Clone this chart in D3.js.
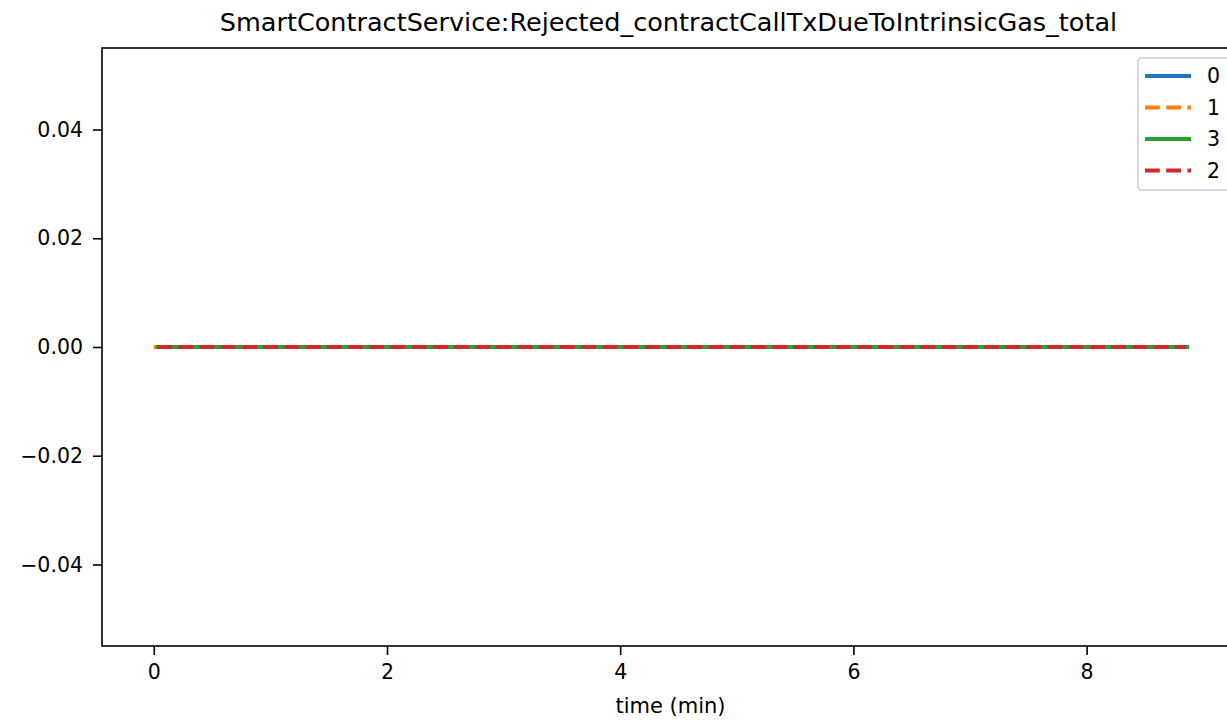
<!DOCTYPE html>
<html>
<head>
<meta charset="utf-8">
<script src="https://cdn.jsdelivr.net/npm/d3@7"></script>
<style>
  html, body { margin: 0; padding: 0; background: #fff; }
  svg { display: block; font-family: "DejaVu Sans", sans-serif; }
</style>
</head>
<body>
<svg id="chart" width="1227" height="721"></svg>
<script>
// ---- data ----
const title = "SmartContractService:Rejected_contractCallTxDueToIntrinsicGas_total";
const xLabel = "time (min)";
const seriesNames = ["0", "1", "3", "2"];
const times0 = [0.02, 0.5, 1.0, 1.5, 2.0, 2.5, 3.0, 3.5, 4.0, 4.5, 5.0, 5.5, 6.0, 6.5, 7.0, 7.5, 8.0, 8.5, 8.86];
const values0 = [0, 0, 0, 0, 0, 0, 0, 0, 0, 0, 0, 0, 0, 0, 0, 0, 0, 0, 0];
const times1 = [0.0, 0.5, 1.0, 1.5, 2.0, 2.5, 3.0, 3.5, 4.0, 4.5, 5.0, 5.5, 6.0, 6.5, 7.0, 7.5, 8.0, 8.5, 8.85];
const values1 = [0, 0, 0, 0, 0, 0, 0, 0, 0, 0, 0, 0, 0, 0, 0, 0, 0, 0, 0];
const times3 = [0.02, 0.5, 1.0, 1.5, 2.0, 2.5, 3.0, 3.5, 4.0, 4.5, 5.0, 5.5, 6.0, 6.5, 7.0, 7.5, 8.0, 8.5, 8.88];
const values3 = [0, 0, 0, 0, 0, 0, 0, 0, 0, 0, 0, 0, 0, 0, 0, 0, 0, 0, 0];
const times2 = [0.03, 0.5, 1.0, 1.5, 2.0, 2.5, 3.0, 3.5, 4.0, 4.5, 5.0, 5.5, 6.0, 6.5, 7.0, 7.5, 8.0, 8.5, 8.85];
const values2 = [0, 0, 0, 0, 0, 0, 0, 0, 0, 0, 0, 0, 0, 0, 0, 0, 0, 0, 0];
const xTicks = [0, 2, 4, 6, 8];
const yTicks = [-0.04, -0.02, 0.00, 0.02, 0.04];
const xDomain = [-0.444, 9.324];
const yDomain = [-0.055, 0.055];

// ---- styles ----
const colors = {"0": "#1f77b4", "1": "#ff7f0e", "3": "#2ca02c", "2": "#d62728"};
const dashes = {"0": null, "1": "14.8,6.4", "3": null, "2": "14.8,6.4"};
const lw = 4;

const svg = d3.select("#chart");
const plot = {left: 102, right: 1241, top: 48, bottom: 646};

const x = d3.scaleLinear().domain(xDomain).range([plot.left, plot.right]);
const y = d3.scaleLinear().domain(yDomain).range([plot.bottom, plot.top]);

const series = [
  {name: "0", t: times0, v: values0},
  {name: "1", t: times1, v: values1},
  {name: "3", t: times3, v: values3},
  {name: "2", t: times2, v: values2}
];

svg.append("defs").append("clipPath").attr("id", "clip")
  .append("rect").attr("x", plot.left).attr("y", plot.top)
  .attr("width", plot.right - plot.left).attr("height", plot.bottom - plot.top);

const line = d3.line().x(d => x(d[0])).y(d => y(d[1]));

const gLines = svg.append("g").attr("clip-path", "url(#clip)");
series.forEach(s => {
  const pts = s.t.map((t, i) => [t, s.v[i]]);
  gLines.append("path")
    .datum(pts)
    .attr("d", line)
    .attr("fill", "none")
    .attr("stroke", colors[s.name])
    .attr("stroke-width", lw)
    .attr("stroke-dasharray", dashes[s.name])
    .attr("stroke-linecap", "butt");
});

// axes
const fmtY = d3.format(".2f");
const xAxis = d3.axisBottom(x).tickValues(xTicks).tickFormat(d3.format("d")).tickSize(9).tickPadding(9);
const yAxis = d3.axisLeft(y).tickValues(yTicks).tickFormat(fmtY).tickSize(9).tickPadding(10);

const gx = svg.append("g").attr("transform", `translate(0,${plot.bottom})`).call(xAxis);
const gy = svg.append("g").attr("transform", `translate(${plot.left},0)`).call(yAxis);
[gx, gy].forEach(g => {
  g.select(".domain").remove();
  g.selectAll(".tick line").attr("stroke", "#000").attr("stroke-width", 1.6);
  g.selectAll(".tick text").attr("fill", "#000").style("font-size", "20.5px")
    .style("font-family", "'DejaVu Sans', sans-serif");
});

// spines
svg.append("rect")
  .attr("x", plot.left).attr("y", plot.top)
  .attr("width", plot.right - plot.left).attr("height", plot.bottom - plot.top)
  .attr("fill", "none").attr("stroke", "#000").attr("stroke-width", 1.6);

// title & label
svg.append("text").attr("x", 668.5).attr("y", 31)
  .attr("text-anchor", "middle").style("font-size", "25.5px").text(title);
svg.append("text").attr("x", 670.5).attr("y", 713)
  .attr("text-anchor", "middle").style("font-size", "21px").text(xLabel);

// legend
const leg = svg.append("g");
leg.append("rect").attr("x", 1138).attr("y", 58).attr("width", 100).attr("height", 132)
  .attr("rx", 4).attr("fill", "#fff").attr("fill-opacity", 0.8)
  .attr("stroke", "#cccccc").attr("stroke-width", 1.6);
seriesNames.forEach((n, i) => {
  const yy = 76 + i * 31.5;
  leg.append("line").attr("x1", 1145).attr("x2", 1191).attr("y1", yy).attr("y2", yy)
    .attr("stroke", colors[n]).attr("stroke-width", lw)
    .attr("stroke-dasharray", dashes[n]);
  leg.append("text").attr("x", 1207).attr("y", yy + 7).style("font-size", "20.5px").text(n);
});
</script>
</body>
</html>
